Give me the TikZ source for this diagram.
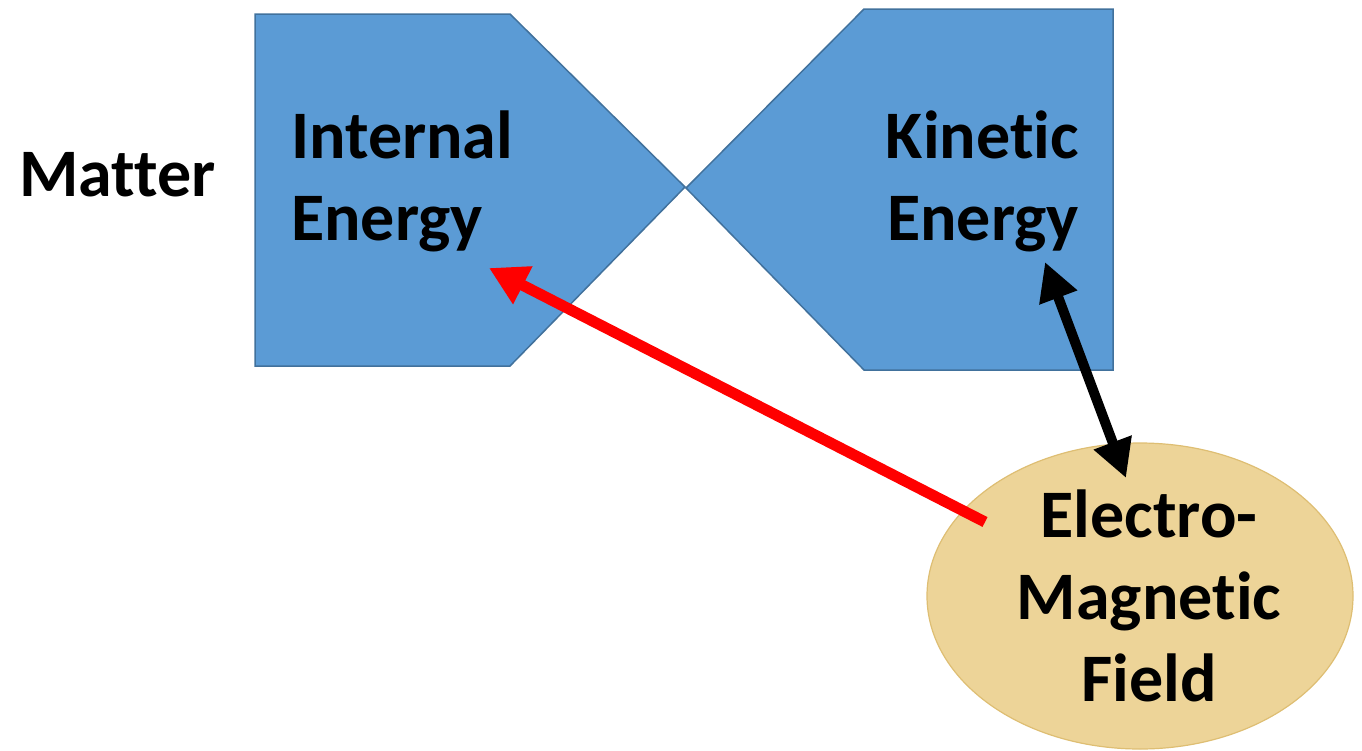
\documentclass[tikz,border=0pt]{standalone}
\usepackage{fontspec}
\setmainfont{Carlito}[Ligatures=NoCommon]
\usetikzlibrary{shapes.geometric,arrows.meta}
\definecolor{boxblue}{RGB}{91,155,213}
\definecolor{boxedge}{RGB}{65,113,156}
\definecolor{emfill}{RGB}{237,212,152}
\definecolor{emedge}{RGB}{222,190,115}
\definecolor{arrred}{RGB}{255,0,0}
\tikzset{
  energyshape/.style={fill=boxblue, draw=boxedge, line width=1.5pt, line join=miter},
  bigtext/.style={font=\fontsize{68}{82}\selectfont\bfseries, inner sep=0pt, text=black},
  fieldshape/.style={ellipse, fill=emfill, draw=emedge, line width=1.2pt, minimum width=426pt, minimum height=306pt, inner sep=0pt},
  redarrow/.style={draw=arrred, line width=11pt, -{Triangle[length=38pt,width=40pt]}},
  blackarrow/.style={draw=black, line width=10pt, {Triangle[length=38pt,width=38pt]}-{Triangle[length=38pt,width=38pt]}}
}
\begin{document}
\begin{tikzpicture}[x=1pt,y=-1pt]
\useasboundingbox (0,0) rectangle (1362,750);
% Internal energy shape
\draw[energyshape] (255,14) -- (510,14) -- (685,187) -- (510,366) -- (255,366) -- cycle;
% Kinetic energy shape
\draw[energyshape] (864,9) -- (1113,9) -- (1113,370) -- (864,370) -- (686,188) -- cycle;
% EM field
\node[fieldshape] (em) at (1140,596) {};
% texts (base anchor = baseline of the last line)
\node[bigtext, anchor=base west] (matter) at (19,196) {Matter};
\node[bigtext, anchor=base west, align=left] (internal) at (291,240) {Internal\\Energy};
\node[bigtext, anchor=base east, align=right] (kinetic) at (1079,240) {Kinetic\\Energy};
\node[bigtext, anchor=base, align=center] (emtext) at (1149,701) {Electro-\\Magnetic\\Field};
% connector end points
\coordinate (redtail) at (985,522);
\coordinate (redtip) at (489,268);
\coordinate (ktip) at (1045,262);
\coordinate (etip) at (1126,478);
\draw[redarrow] (redtail) -- (redtip);
\draw[blackarrow] (ktip) -- (etip);
\end{tikzpicture}
\end{document}
